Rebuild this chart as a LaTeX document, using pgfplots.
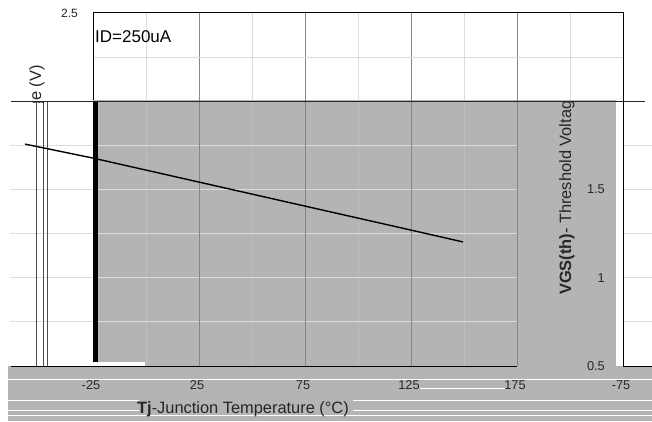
\documentclass[border=0pt]{standalone}
\usepackage{fontspec}
\setmainfont{Liberation Sans}
\usepackage{pgfplots}
\pgfplotsset{compat=1.18}
\definecolor{bg}{HTML}{B4B4B4}
\definecolor{gl}{HTML}{DCDCDC}
\definecolor{gm}{HTML}{858585}
\definecolor{gs}{HTML}{BEBEBE}
\newcommand{\tk}{\fontsize{12.8}{15}\selectfont}
\begin{document}
\begin{tikzpicture}[x=1pt,y=1pt]
\path[use as bounding box, fill=white] (-93,-55) rectangle (559,366);
% grey areas
\fill[bg] (0,0) rectangle (523,266);
\fill[bg] (-85,-55) rectangle (559,0);
% white streaks in the bottom band
\draw[white, line width=1] (-93,-13) -- (559,-13);
\draw[white, line width=0.8] (327,-22) -- (412,-22);
\draw[white, line width=0.8] (-85,-34) -- (46,-34) (260,-34) -- (559,-34);
\draw[white, line width=0.8] (-85,-44) -- (46,-44) (260,-44) -- (559,-44);
\draw[white, line width=0.8] (-85,-49) -- (559,-49);
% grid of the upper band
\foreach \x in {53,159,265,371,477} \draw[gl, line width=1] (\x,266) -- (\x,353);
\foreach \x in {106,212,318,424} \draw[gm, line width=1] (\x,266) -- (\x,353);
\draw[gl, line width=1] (0,308.9) -- (530,308.9);
% grid of the grey band
\foreach \x in {53,159,265,371} \draw[gs, line width=0.8] (\x,0) -- (\x,266);
\foreach \y in {44.1,88.25,132.4,176.5,220.6} {\draw[gl, line width=1] (-83,\y) -- (424,\y); \draw[gl, line width=1] (530,\y) -- (559,\y);}
\foreach \x in {106,212,318,424} \draw[gm, line width=1] (\x,0) -- (\x,266);
% frame pieces
\draw[black, line width=1] (0,266) -- (0,353) -- (530,353) -- (530,0);
\draw[black!85, line width=0.8] (-82,264.5) -- (552,264.5);
\draw[black, line width=1] (-82,0) -- (424,0) (530,0) -- (559,0);
\fill[black] (0,4) rectangle (4.5,264);
\fill[white] (0,0.5) rectangle (52,4);
\draw[black!70, line width=0.8] (-57,0) -- (-57,264) (-50,0) -- (-50,264) (-46,0) -- (-46,264);
\begin{axis}[at={(0,0)}, anchor=south west, scale only axis,
  width=530pt, height=353pt,
  xmin=-25, xmax=225, ymin=0.5, ymax=2.5, clip=false,
  axis line style={draw=none}, tick style={draw=none},
  xtick={-25,25,75,125,175,225},
  xticklabels={{\tk -25},{\tk 25},{\tk 75},{\tk 125},{\tk 175},{\tk -75}},
  xticklabel style={anchor=base, yshift=-23pt, xshift=-2pt, text=black!85},
  ytick={2.5}, yticklabels={{\fontsize{12}{14}\selectfont 2.5}},
  yticklabel style={anchor=east, inner sep=0pt, xshift=-15pt, text=black!85},
  extra y ticks={0.5,1,1.5}, extra y tick labels={{\tk 0.5},{\tk 1},{\tk 1.5}},
  extra y tick style={yticklabel style={xshift=527pt}},
  xlabel={\textbf{Tj}-Junction Temperature (°C)},
  xlabel style={at={(axis cs:-4.25,0.5)}, anchor=base west, inner sep=0pt, yshift=-47pt, font=\fontsize{16.4}{19}\selectfont, text=black!85},
]
\addplot[black, line width=1.4pt] coordinates {(-57,1.757) (-25,1.678) (25,1.542) (75,1.406) (125,1.270) (149.5,1.203)};
\end{axis}
\node[anchor=base west, inner sep=0pt, font=\fontsize{17}{20}\selectfont] at (2,323) {ID=250uA};
\begin{scope}
\clip (424,0) rectangle (523,264);
\node[rotate=90, anchor=base west, inner sep=0pt, font=\fontsize{16.4}{19}\selectfont, text=black!85] at (478,71) {\textbf{VGS(th)}- Threshold Voltage (V)};
\end{scope}
\begin{scope}
\clip (-93,264) rectangle (0,366);
\node[rotate=90, anchor=base west, inner sep=0pt, font=\fontsize{16.4}{19}\selectfont, text=black!85] at (-52,71) {\textbf{VGS(th)}- Threshold Voltage (V)};
\end{scope}
\end{tikzpicture}
\end{document}
